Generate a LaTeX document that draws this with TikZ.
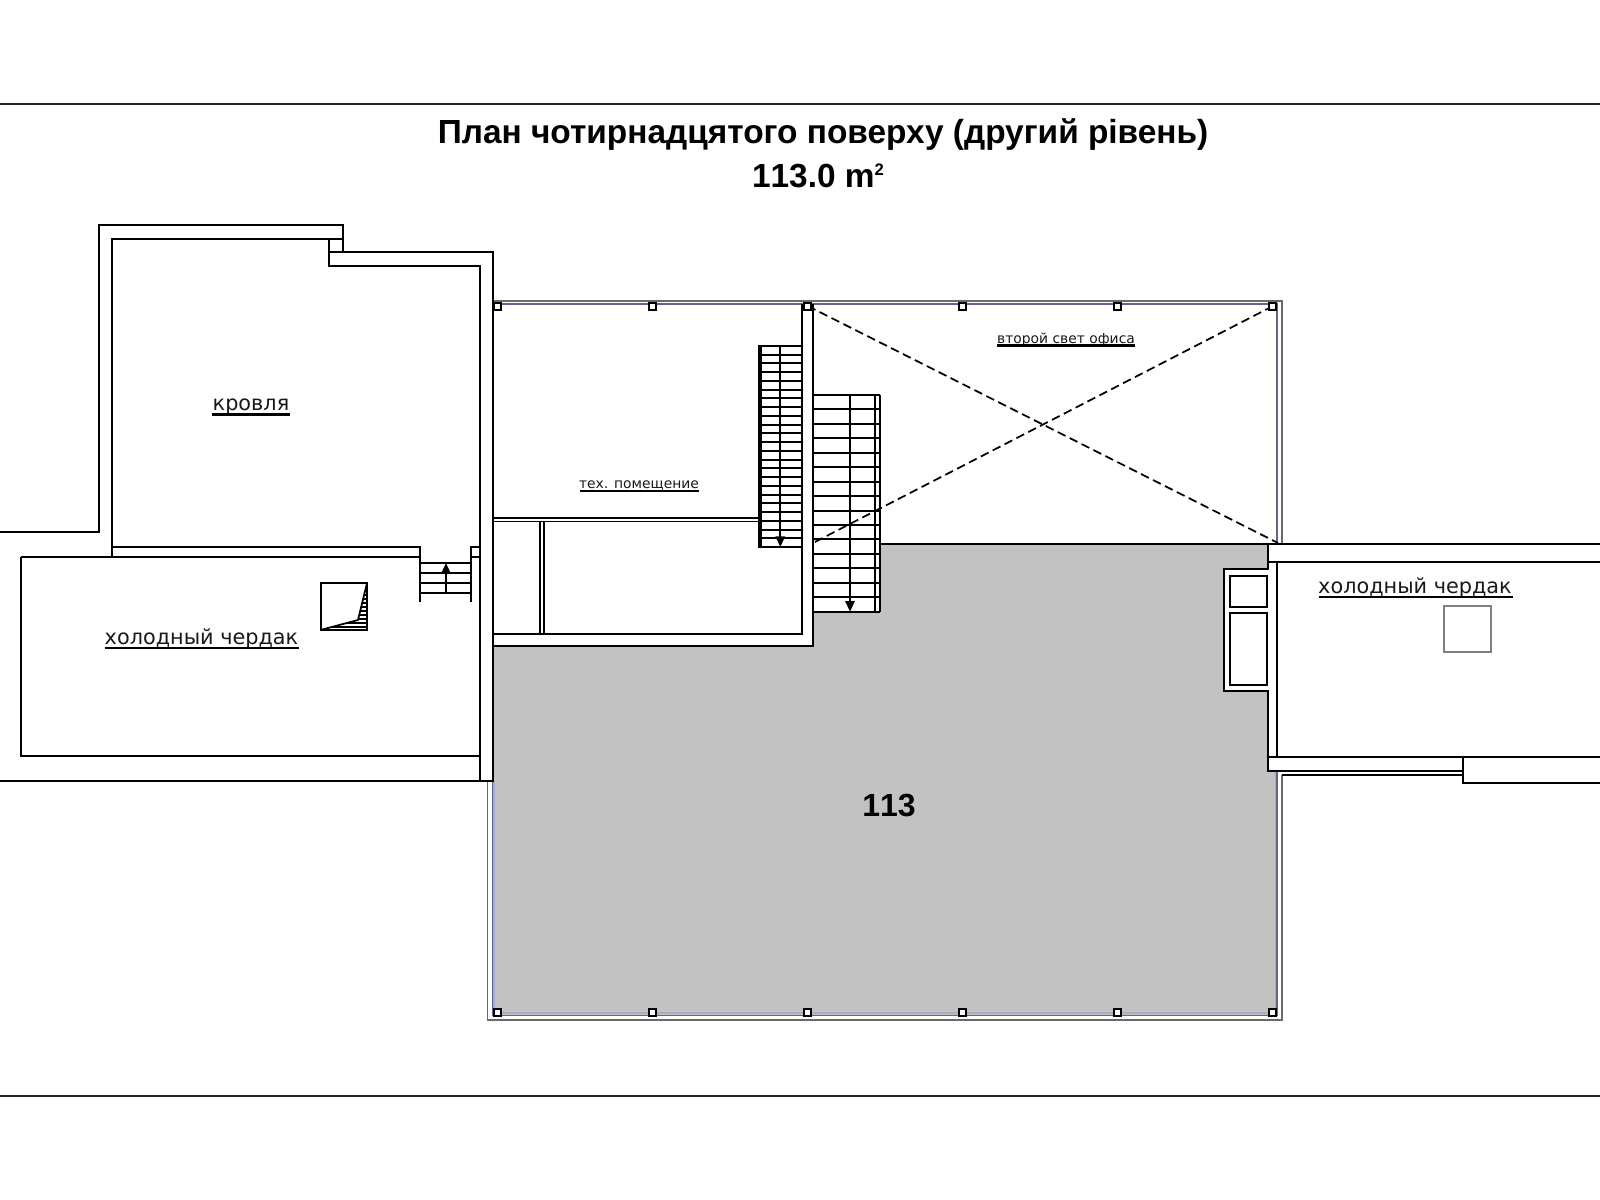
\documentclass[tikz,border=0pt]{standalone}
\usepackage{fontspec}
\setmainfont{Liberation Sans}
\newfontfamily\planfont{DejaVu Sans}
\usetikzlibrary{arrows.meta}
\definecolor{floorgray}{RGB}{194,194,194}
\definecolor{glassblue}{RGB}{96,100,145}
\definecolor{glassgray}{RGB}{105,105,112}
\definecolor{glasstint}{RGB}{170,170,204}
\tikzset{
  wall/.style={draw=black,line width=1.5pt,line join=miter},
  thin wall/.style={draw=black,line width=1.3pt},
  page rule/.style={draw=black!85,line width=1pt},
  tread/.style={draw=black,line width=1.5pt},
  glass/.style={draw=glassblue,line width=1.4pt},
  glass out/.style={draw=glassgray,line width=1.4pt},
  col/.style={draw=black,fill=white,line width=1.5pt,minimum size=5.2pt,inner sep=0pt,shape=rectangle},
  room/.style={font=\planfont,inner sep=0pt,anchor=base,text=black!90},
  large room/.style={room,font=\planfont\fontsize{15.6pt}{18pt}\selectfont},
  small room/.style={room,font=\planfont\fontsize{10.4pt}{13pt}\selectfont},
  title/.style={font=\fontsize{25.05pt}{30pt}\selectfont\bfseries,inner sep=0pt,anchor=base},
  ul/.style={draw=black,line width=1.6pt},
  flight/.style={draw=black,line width=1.5pt,-{Triangle[length=8pt,width=7pt]}},
  dashline/.style={draw=black,line width=1.3pt,dash pattern=on 6.5pt off 3.5pt},
}
\begin{document}
\begin{tikzpicture}[x=0.75pt,y=-0.75pt]
\useasboundingbox (0,0) rectangle (1600,1200);
\fill[white] (0,0) rectangle (1600,1200);
% page rules
\coordinate (rl1) at (0,104); \coordinate (rr1) at (1600,104);
\coordinate (rl2) at (0,1096); \coordinate (rr2) at (1600,1096);
\draw[page rule] (rl1) -- (rr1);
\draw[page rule] (rl2) -- (rr2);
% title
\node[title] (t1) at (823,143.5) {План чотирнадцятого поверху (другий рівень)};
\node[title] (t2) at (818,187) {\addfontfeatures{Kerning=Off}113.0 m\raisebox{9pt}{\fontsize{12.5pt}{14pt}\selectfont 2}};
% gray floor
\fill[floorgray] (492,645.7) -- (812.7,645.7) -- (812.7,611.7) -- (880,611.7) -- (880,544) -- (1267.7,544) -- (1267.7,569.3) -- (1224,569.3) -- (1224,691.3) -- (1267.7,691.3) -- (1267.7,770.7) -- (1277,770.7) -- (1277,1015) -- (492,1015) -- cycle;
% glazing
\draw[glasstint,line width=1.4pt] (494,781) -- (494,1013) -- (1275.5,1013) -- (1275.5,772);
\draw[glass out] (487.5,781) -- (487.5,1020) -- (1282,1020) -- (1282,775);
\draw[glass] (492.5,781) -- (492.5,1015.5) -- (1277.3,1015.5) -- (1277.3,771);
\draw[glass out] (492.5,300.8) -- (1282,300.8) -- (1282,544);
\draw[glass] (492.5,304.2) -- (1277.3,304.2) -- (1277.3,544);
% second light
\coordinate (xa) at (807.7,306); \coordinate (xb) at (1278,543);
\coordinate (xc) at (1273,306); \coordinate (xd) at (813,543);
\draw[dashline] (xa) -- (xb);
\draw[dashline] (xc) -- (xd);
% columns
\foreach \cx in {497.7,652.7,807.7,962.7,1117.7,1272.7}{
  \node[col] at (\cx,306.5) {};
  \node[col] at (\cx,1012.7) {};
}
% west block
\draw[wall] (0,532) -- (99,532) -- (99,225) -- (343,225) -- (343,252) -- (492.5,252) -- (492.5,781) -- (0,781);
\draw[wall] (112,557) -- (112,239) -- (329,239) -- (329,266) -- (479.5,266) -- (479.5,781);
\draw[thin wall] (329,252) -- (343,252);
\draw[thin wall] (329,239) -- (343,239);
\draw[wall] (112,547) -- (420,547) -- (420,602);
\draw[wall] (20.5,557) -- (420,557);
\draw[wall] (20.5,557) -- (20.5,756) -- (479.5,756);
\draw[thin wall] (479.5,547) -- (471,547) -- (471,602);
\draw[thin wall] (471,557) -- (479.5,557);
% small stair
\foreach \ty in {563,573,583,593}{ \draw[tread] (420,\ty) -- (471,\ty); }
\draw[flight] (446,593) -- (446,563);
% west shaft
\begin{scope}
  \clip (367,583) -- (358,620) -- (320.5,630) -- (367,630) -- cycle;
  \foreach \hy in {587,591,...,631}{ \draw[draw=black,line width=1.4pt] (320,\hy) -- (368,\hy); }
\end{scope}
\draw[thin wall] (367,583) -- (358,620) -- (320.5,630);
\draw[wall] (320.5,583) rectangle (367,630);
% technical room
\draw[wall] (492.5,304.2) -- (492.5,645.7) -- (812.7,645.7) -- (812.7,304.2);
\draw[wall] (802,304.2) -- (802,634.3) -- (492.5,634.3);
\draw[thin wall] (492.5,517.7) -- (758.3,517.7);
\draw[thin wall] (492.5,521.5) -- (758.3,521.5);
\draw[thin wall] (540,521.5) -- (540,634.3);
\draw[thin wall] (544,521.5) -- (544,634.3);
% stair 1
\foreach \i in {0,...,23}{ \draw[tread] (758.3,{346+\i*8.74}) -- (802,{346+\i*8.74}); }
\fill[black] (758,345.2) rectangle (762,547.8);
\draw[flight] (780.3,346) -- (780.3,547);
% stair 2
\foreach \i in {0,...,15}{ \draw[tread] (812.7,{395+\i*14.44}) -- (880,{395+\i*14.44}); }
\draw[wall] (880,395) -- (880,611.7);
\draw[thin wall] (875,395) -- (875,611.7);
\draw[flight] (850,395) -- (850,611.7);
% east block
\draw[wall] (880,544) -- (1600,544);
\draw[wall] (1267.7,544) -- (1267.7,569.3) -- (1224,569.3) -- (1224,691.3) -- (1267.7,691.3) -- (1267.7,770.7) -- (1463,770.7);
\draw[wall] (1267.7,562) -- (1600,562);
\draw[wall] (1277.3,562) -- (1277.3,757.3);
\draw[wall] (1267.7,757.3) -- (1600,757.3);
\draw[wall] (1463,757.3) -- (1463,782.7) -- (1600,782.7);
\draw[thin wall] (1282,775.2) -- (1463,775.2);
\draw[wall] (1230,576) rectangle (1267.3,606.7);
\draw[wall] (1230,612.7) rectangle (1267.3,685);
\draw[draw=black!50,line width=1.5pt] (1444,605.7) rectangle (1490.7,652.3);
% labels
\node[large room] (lk) at (251,410) {кровля};
\draw[ul] (212,414.5) -- (290,414.5);
\node[large room] (lw) at (201.5,644.5) {холодный чердак};
\draw[ul] (104.5,648.3) -- (299,648.3);
\node[large room] (le) at (1415,593.5) {холодный чердак};
\draw[ul] (1318.5,597.3) -- (1513,597.3);
\node[small room] (lt) at (639,488) {тех. помещение};
\draw[ul] (580,490.7) -- (699,490.7);
\node[small room] (ls) at (1066,343) {второй свет офиса};
\draw[ul] (997,345.5) -- (1135,345.5);
\node[title,font=\fontsize{24pt}{30pt}\selectfont\bfseries\addfontfeatures{Kerning=Off}] (n113) at (889,816.5) {113};
\end{tikzpicture}
\end{document}
